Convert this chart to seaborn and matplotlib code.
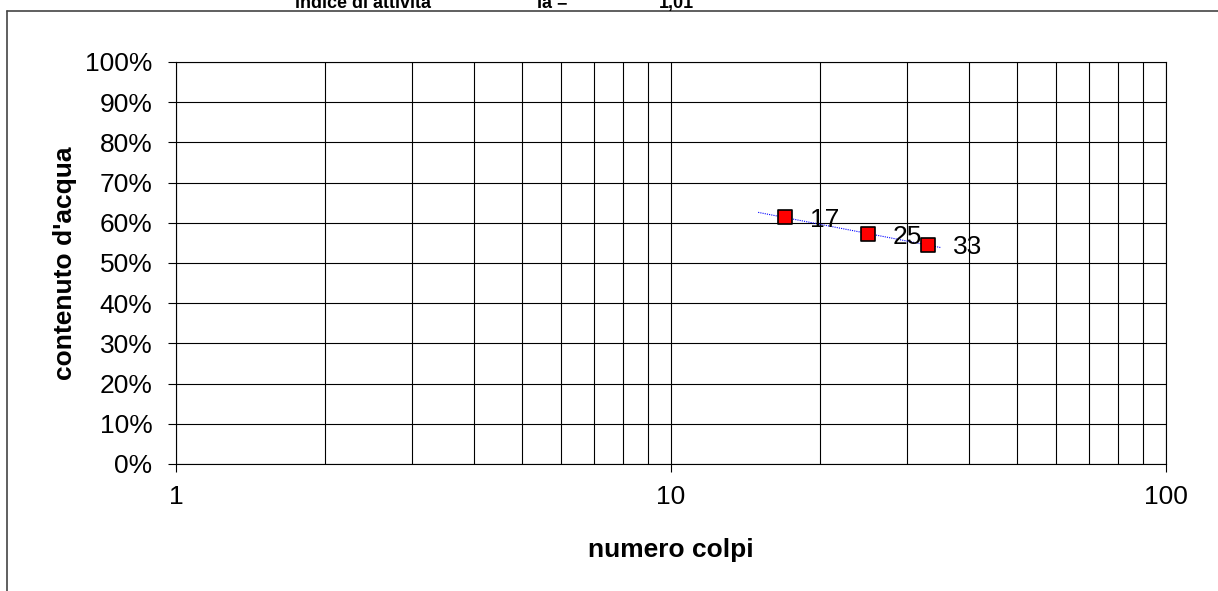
import numpy as np
import pandas as pd
import matplotlib
matplotlib.use("Agg")
import matplotlib.pyplot as plt
from matplotlib.lines import Line2D
from matplotlib.ticker import FuncFormatter, LogLocator, NullFormatter
import seaborn as sns

# data
colpi = [17, 25, 33]
acqua = [0.614, 0.571, 0.546]
trend_x = [15, 35]
ia_text = "1,01"

df = pd.DataFrame({"colpi": colpi, "acqua": acqua})

sns.set_style("white")
plt.rcParams['font.family'] = ['Liberation Sans', 'DejaVu Sans']
plt.rcParams['text.color'] = 'black'
plt.rcParams['axes.labelcolor'] = 'black'
plt.rcParams['xtick.color'] = 'black'
plt.rcParams['ytick.color'] = 'black'

fig = plt.figure(figsize=(12.18, 5.91), dpi=100)
ax = fig.add_axes([0.1445, 0.2149, 0.8128, 0.6802])

# logarithmic trend line
b, a = np.polyfit(np.log10(colpi), acqua, 1)
tdf = pd.DataFrame({"x": trend_x, "y": [a + b * np.log10(v) for v in trend_x]})
sns.lineplot(data=tdf, x="x", y="y", ax=ax, color="blue", lw=0.8, ls=(0, (1, 1)), zorder=3)

sns.scatterplot(data=df, x="colpi", y="acqua", ax=ax, marker="s", s=110,
                color="red", edgecolor="black", linewidth=1.2, zorder=4)
for c, w in zip(colpi, acqua):
    ax.annotate(str(c), (c, w), xytext=(18, -2), textcoords="offset points",
                va="center", ha="left", fontsize=19)

ax.set_xscale("log")
ax.set_xlim(1, 100)
ax.set_ylim(0, 1)
ax.set_yticks(np.arange(0, 1.01, 0.1))
ax.yaxis.set_major_formatter(FuncFormatter(lambda v, p: f"{v*100:.0f}%"))
ax.xaxis.set_major_locator(LogLocator(base=10, numticks=5))
ax.xaxis.set_major_formatter(FuncFormatter(lambda v, p: f"{v:g}"))
ax.xaxis.set_minor_locator(LogLocator(base=10, subs=np.arange(2, 10), numticks=20))
ax.xaxis.set_minor_formatter(NullFormatter())
ax.grid(True, which="both", color="black", lw=0.8)
ax.tick_params(axis="both", which="major", labelsize=19, length=6, width=0.8,
               color="black", direction="out", bottom=True, left=True)
ax.tick_params(axis="x", which="minor", length=0)
ax.tick_params(axis="x", pad=9)
ax.tick_params(axis="y", pad=11)
for s in ax.spines.values():
    s.set_color("black")
    s.set_linewidth(0.8)

ax.set_xlabel("numero colpi", fontsize=19, fontweight="bold", labelpad=21)
ax.set_ylabel("contenuto d'acqua", fontsize=19, fontweight="bold", labelpad=6)

# header row, cut at the top of the image
fig.text(295 / 1218, 1 - 8 / 591, "indice di attività", fontsize=13, fontweight="bold", va="baseline")
fig.text(537 / 1218, 1 - 8 / 591, "Ia =", fontsize=13, fontweight="bold", va="baseline")
fig.text(659 / 1218, 1 - 8 / 591, ia_text, fontsize=13, fontweight="bold", va="baseline")

# chart frame
fig.add_artist(Line2D([7 / 1218, 1], [1 - 10.5 / 591] * 2, color="#444444", lw=1.2))
fig.add_artist(Line2D([7 / 1218] * 2, [0, 1 - 10.5 / 591], color="#444444", lw=1.2))

fig.savefig("out.png", dpi=100)
